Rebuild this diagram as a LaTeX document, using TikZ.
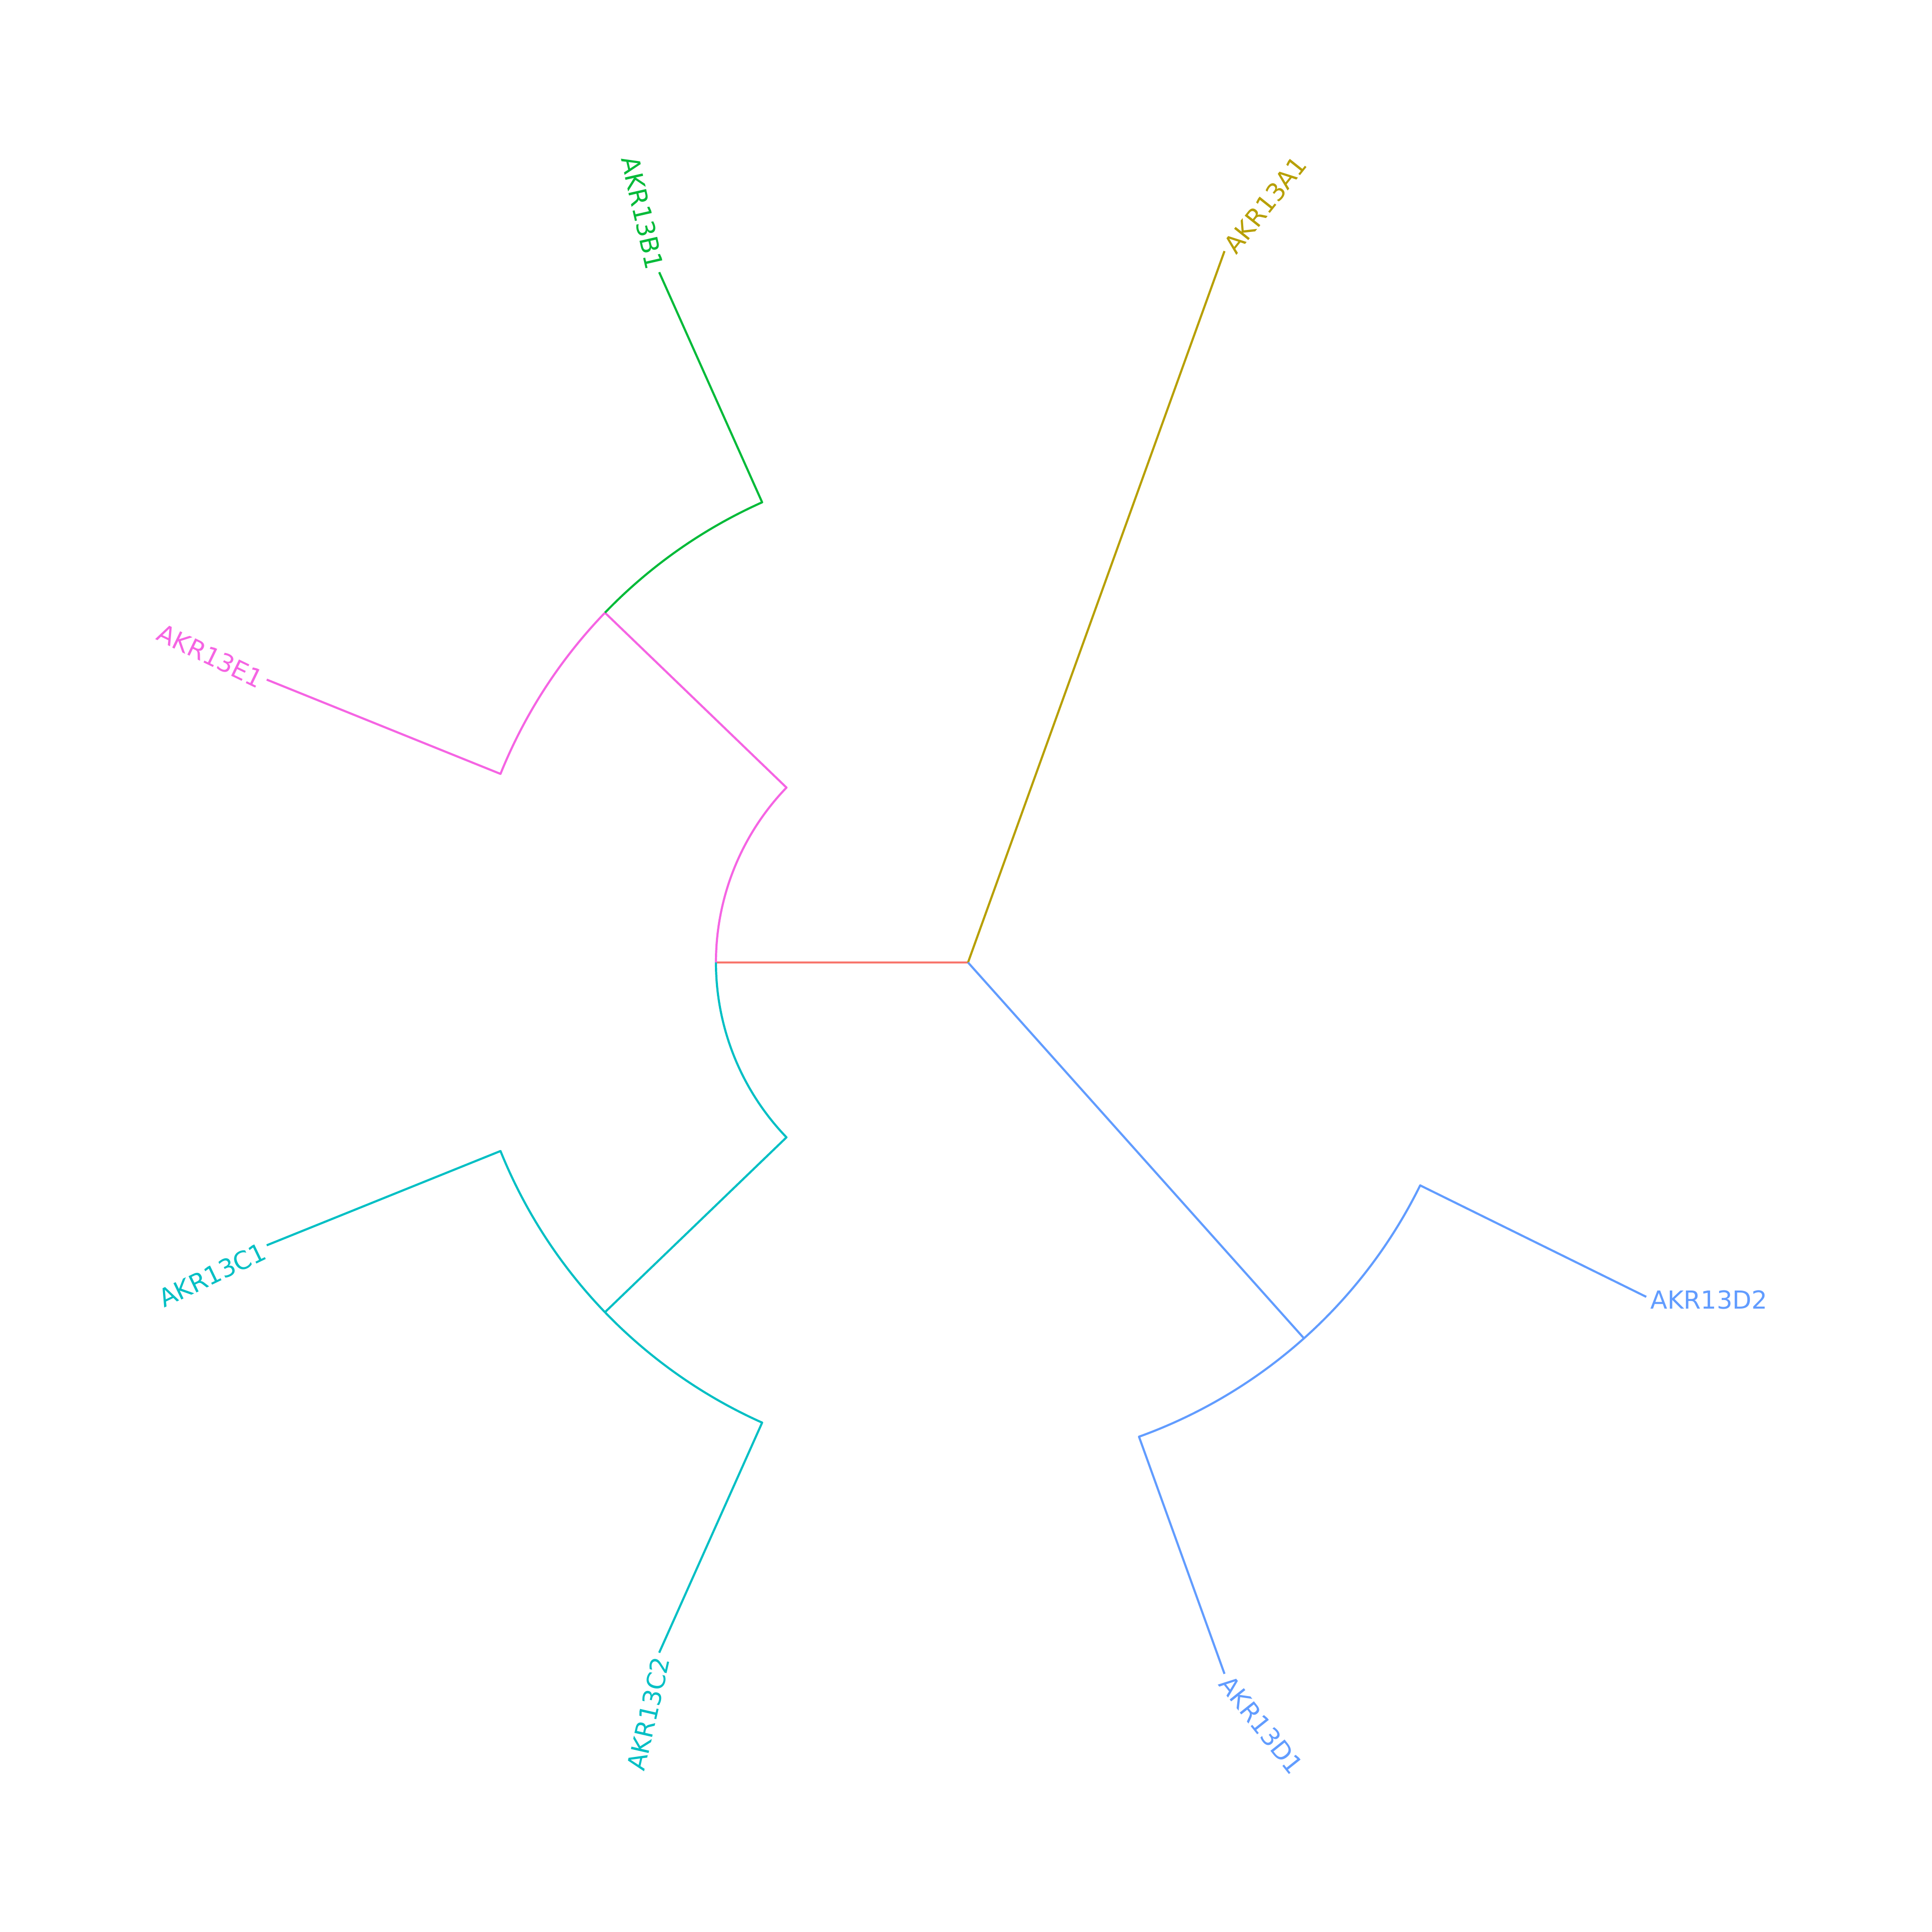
\documentclass[tikz,border=0pt]{standalone}
\usepackage{fontspec}
\setmainfont{DejaVu Sans}
\definecolor{cRoot}{HTML}{F8766D}
\definecolor{cA}{HTML}{B79F00}
\definecolor{cB}{HTML}{00BA38}
\definecolor{cC}{HTML}{00BFC4}
\definecolor{cD}{HTML}{619CFF}
\definecolor{cE}{HTML}{F564E3}
\tikzset{
  br/.style={line width=1.05pt, line join=round},
  lab/.style={inner xsep=1.9pt, inner ysep=0pt, text height=12pt, text depth=0pt, font=\fontsize{12.35pt}{12.35pt}\selectfont}
}
\begin{document}
\begin{tikzpicture}[x=1pt,y=1pt]
\fill[white] (0,0) rectangle (960,960);
\useasboundingbox (0,0) rectangle (960,960);
\def\Ra{125.25pt}
\def\Rb{250.5pt}
\coordinate (root) at (481,481.75);
% internal nodes
\coordinate (bec) at ([shift={(180:\Ra)}]root);
\coordinate (be) at ([shift={(136.07:\Rb)}]root);
\coordinate (cn) at ([shift={(223.93:\Rb)}]root);
\coordinate (dn) at ([shift={(311.79:\Rb)}]root);
% leaves
\coordinate (A1) at ([shift={(70.175:375.75pt)}]root);
\coordinate (B1) at ([shift={(114.105:375.75pt)}]root);
\coordinate (E1) at ([shift={(158.035:375.75pt)}]root);
\coordinate (C1) at ([shift={(201.965:375.75pt)}]root);
\coordinate (C2) at ([shift={(245.895:375.75pt)}]root);
\coordinate (D1) at ([shift={(289.825:375.75pt)}]root);
\coordinate (D2) at ([shift={(333.755:375.75pt)}]root);
% branches
\draw[br, cRoot] (root) -- (bec);
\draw[br, cA] (root) -- (A1);
\draw[br, cD] (root) -- (dn);
\draw[br, cE] (bec) arc[start angle=180, end angle=136.07, radius=\Ra] -- (be);
\draw[br, cC] (bec) arc[start angle=180, end angle=223.93, radius=\Ra] -- (cn);
\draw[br, cB] (be) arc[start angle=136.07, end angle=114.105, radius=\Rb] -- (B1);
\draw[br, cE] (be) arc[start angle=136.07, end angle=158.035, radius=\Rb] -- (E1);
\draw[br, cC] (cn) arc[start angle=223.93, end angle=201.965, radius=\Rb] -- (C1);
\draw[br, cC] (cn) arc[start angle=223.93, end angle=245.895, radius=\Rb] -- (C2);
\draw[br, cD] (dn) arc[start angle=311.79, end angle=289.825, radius=\Rb] -- (D1);
\draw[br, cD] (dn) arc[start angle=311.79, end angle=333.755, radius=\Rb] -- (D2);
% labels
\node[lab, text=cA, rotate=51.43, anchor=west] (lA1) at (A1) {AKR13A1};
\node[lab, text=cB, rotate=-77.14, anchor=east] (lB1) at (B1) {AKR13B1};
\node[lab, text=cE, rotate=-25.71, anchor=east] (lE1) at (E1) {AKR13E1};
\node[lab, text=cC, rotate=25.71, anchor=east] (lC1) at (C1) {AKR13C1};
\node[lab, text=cC, rotate=77.14, anchor=east] (lC2) at (C2) {AKR13C2};
\node[lab, text=cD, rotate=-51.43, anchor=west] (lD1) at (D1) {AKR13D1};
\node[lab, text=cD, rotate=0, anchor=west] (lD2) at (D2) {AKR13D2};
\end{tikzpicture}
\end{document}
